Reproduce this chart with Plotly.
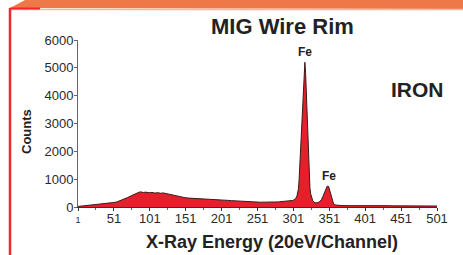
import plotly.graph_objects as go

# ---- data ----
channels = [1, 5, 10, 15, 20, 25, 30, 35, 40, 45, 50, 55, 60, 65, 70, 75, 80, 85, 88, 92,
            95, 100, 104, 108, 112, 116, 120, 124, 128, 132, 136, 140, 145, 150, 155, 160,
            165, 170, 175, 180, 185, 190, 195, 200, 205, 210, 215, 220, 225, 230, 235, 240,
            245, 250, 255, 260, 265, 270, 275, 280, 285, 290, 295, 300, 302, 304, 306, 308,
            309, 310, 311, 312, 313, 314, 315, 316, 317, 318, 319, 320, 321, 322, 323, 324,
            325, 326, 328, 331, 334, 337, 340, 342, 344, 346, 348, 350, 352, 353, 355, 357,
            360, 365, 370, 380, 390, 400, 410, 420, 430, 440, 450, 460, 470, 480, 490, 501]
counts = [20, 30, 45, 55, 70, 80, 95, 105, 125, 135, 160, 180, 230, 270, 340, 400, 470, 520, 545, 520,
          535, 510, 525, 500, 515, 495, 505, 480, 460, 430, 405, 385, 360, 335, 320, 315,
          300, 305, 290, 285, 275, 270, 262, 255, 250, 238, 228, 218, 210, 202, 196, 188,
          182, 176, 172, 175, 170, 176, 180, 184, 190, 198, 210, 235, 260, 300, 400, 650,
          1000, 1500, 2050, 2700, 3350, 4000, 4500, 4950, 5200, 4800, 4100, 3250, 2400, 1650, 1090, 700,
          480, 370, 220, 150, 150, 180, 260, 370, 520, 670, 750, 740, 560, 490, 250, 110,
          70, 55, 50, 48, 52, 45, 47, 44, 48, 42, 45, 40, 43, 40, 38, 35]

x_tick_vals = [1, 51, 101, 151, 201, 251, 301, 351, 401, 451, 501]
x_tick_text = ["<span style='font-size:9px'>1</span>", "51", "101", "151", "201", "251",
               "301", "351", "401", "451", "501"]
y_tick_vals = [0, 1000, 2000, 3000, 4000, 5000, 6000]

peak_labels = ["Fe", "Fe"]
peak_channels = [317, 350]
peak_counts = [5200, 750]

title_text = "MIG Wire Rim"
sample_text = "IRON"
x_title = "X-Ray Energy (20eV/Channel)"
y_title = "Counts"

# ---- layout geometry (pixels) ----
W, H = 463, 255
L, R, T, B = 78, 437, 40, 207
PW, PH = R - L, B - T


def px(p):
    return (p - L) / PW


def py(p):
    return (B - p) / PH


FONT = "Liberation Sans, Arial, Helvetica, sans-serif"

fig = go.Figure()
fig.add_trace(go.Scatter(
    x=channels, y=counts, mode="lines", fill="tozeroy",
    fillcolor="#e5202b", line=dict(color="#3a1a1a", width=1),
    hoverinfo="skip", showlegend=False,
))

fig.update_layout(
    width=W, height=H, autosize=False,
    margin=dict(l=L, r=W - R, t=T, b=H - B, pad=0),
    paper_bgcolor="white", plot_bgcolor="white",
    font=dict(family=FONT, color="#2a2a2a"),
    xaxis=dict(range=[1, 501], tickvals=x_tick_vals, ticktext=x_tick_text,
               showgrid=False, zeroline=False, showline=True, linecolor="#333",
               linewidth=1, ticks="outside", ticklen=3, tickcolor="#333",
               ticklabelstandoff=-4,
               tickfont=dict(size=13, color="#2a2a2a"),
               minor=dict(dtick=25, tick0=1, ticks="outside", ticklen=2, tickcolor="#666")),
    yaxis=dict(range=[0, 6000], tickvals=y_tick_vals, showgrid=False, zeroline=False,
               showline=True, linecolor="#666", linewidth=1, ticks="outside",
               ticklabelstandoff=-2,
               ticklen=3, tickcolor="#666", tickfont=dict(size=13, color="#2a2a2a")),
)

ann = []


def text_at(txt, x, y, size, angle=0):
    return dict(text="<b>%s</b>" % txt, xref="paper", yref="paper", x=px(x), y=py(y),
                xanchor="center", yanchor="middle", textangle=angle, showarrow=False,
                font=dict(size=size, color="#222"))


ann.append(text_at(title_text, 282, 26, 22))
ann.append(text_at(sample_text, 417, 89, 21))
ann.append(text_at(x_title, 272, 242, 18))
ann.append(text_at(y_title, 26, 132, 13, -90))
for lab, cx, cy in zip(peak_labels, peak_channels, peak_counts):
    ann.append(dict(text="<b>%s</b>" % lab, x=cx, y=cy, xref="x", yref="y",
                    xanchor="center", yanchor="bottom", yshift=1, showarrow=False,
                    font=dict(size=12, color="#222")))
fig.update_layout(annotations=ann)

# decorative banner and border
shapes = [
    dict(type="path", xref="paper", yref="paper", layer="above",
         path="M %f,%f L %f,%f L %f,%f L %f,%f Z" % (px(10), py(8), px(27), py(-1),
                                                       px(464), py(-1), px(464), py(9)),
         fillcolor="#ef7848", line=dict(width=0)),
    dict(type="line", xref="paper", yref="paper", x0=px(10), x1=px(464), y0=py(9.5), y1=py(9.5),
         line=dict(color="#f7b79f", width=1.5)),
    dict(type="line", xref="paper", yref="paper", x0=px(10), x1=px(40), y0=py(8.5), y1=py(8.5),
         line=dict(color="#ee2a2f", width=2)),
    dict(type="line", xref="paper", yref="paper", x0=px(10), x1=px(10), y0=py(8), y1=py(256),
         line=dict(color="#ee2a2f", width=2.5)),
]
fig.update_layout(shapes=shapes)

fig.write_html("out.html", config={"staticPlot": True},
               post_script="document.body.style.margin='0';document.body.style.overflow='hidden';")
